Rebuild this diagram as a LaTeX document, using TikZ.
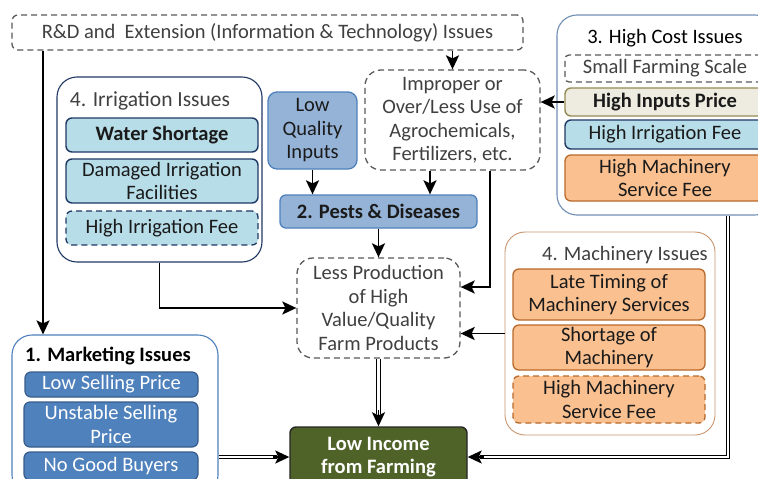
\documentclass[tikz,border=0pt]{standalone}
\usepackage{fontspec}
\setmainfont{Carlito}
\usetikzlibrary{arrows.meta}
\definecolor{navy}{HTML}{1F3864}
\definecolor{lblue}{HTML}{B7DDE8}
\definecolor{mblue}{HTML}{95B3D7}
\definecolor{mborder}{HTML}{4F81BD}
\definecolor{dblue}{HTML}{4F81BD}
\definecolor{dborder}{HTML}{385D8A}
\definecolor{peach}{HTML}{FAC090}
\definecolor{peachb}{HTML}{B8692C}
\definecolor{beige}{HTML}{EEECE1}
\definecolor{beigeb}{HTML}{948A54}
\definecolor{olivef}{HTML}{4F6228}
\definecolor{dashg}{HTML}{595959}
\definecolor{txt}{HTML}{1A1A1A}
\definecolor{txtg}{HTML}{404040}
\definecolor{hcb}{HTML}{6F8FB5}
\definecolor{machb}{HTML}{C8956E}
\newcommand\fs{\fontsize{20.5}{23.5}\selectfont}
\tikzset{
  base/.style={rounded corners=6pt, align=center, font=\fs, inner sep=0pt, text=txt},
  outerbox/.style={draw, rounded corners=20pt, line width=1.1pt, fill=white},
  dsh/.style={dash pattern=on 6pt off 4pt, line width=1.3pt},
  lbbox/.style={base, draw=navy, fill=lblue, line width=1.4pt},
  mbbox/.style={base, draw=mborder, fill=mblue, line width=1.3pt},
  dbbox/.style={base, draw=dborder, fill=dblue, line width=1.2pt, text=white},
  pbox/.style={base, draw=peachb, fill=peach, line width=1.3pt},
  wdash/.style={base, draw=dashg, fill=white, dsh, text=txtg},
  title/.style={font=\fs, inner sep=0pt},
  arr/.style={line width=1.9pt, -{Stealth[length=14pt,width=13pt,inset=3pt]}},
  dline/.style={double, double distance=2.6pt, line width=1pt, shorten >=12pt},
  dtip/.style={line width=1.5pt, -{Stealth[length=14pt,width=13pt,inset=3pt]}}
}
\begin{document}
\begin{tikzpicture}[x=1pt,y=-1pt]
\useasboundingbox (0,0) rectangle (758,479);
\clip (0,0) rectangle (758,479);
\fill[white] (0,0) rectangle (758,479);

% R&D
\node[wdash, minimum width=511pt, minimum height=35pt] (rd) at (267.5,32.5) {R\&D and\ \ Extension (Information \& Technology) Issues};

% Irrigation
\node[outerbox, draw=navy, minimum width=205pt, minimum height=185pt] (irr) at (159.5,169.5) {};
\node[title, text=txtg, font=\fontsize{21.5}{24}\selectfont] (irrt) at (150,101) {4. Irrigation Issues};
\node[lbbox, minimum width=192pt, minimum height=34pt, font=\fs\bfseries] (ws) at (162,135) {Water Shortage};
\node[lbbox, minimum width=192pt, minimum height=44pt] (dif) at (162,181) {Damaged Irrigation\\Facilities};
\node[lbbox, dsh, minimum width=192pt, minimum height=34pt] (hif1) at (162,228) {High Irrigation Fee};

% Low quality inputs
\node[mbbox, minimum width=89pt, minimum height=77pt, rounded corners=9pt] (lq) at (312.5,130.5) {Low\\Quality\\Inputs};

% Improper
\node[wdash, rounded corners=16pt, minimum width=175pt, minimum height=100pt, text=txtg] (imp) at (452.5,120) {Improper or\\Over/Less Use of\\Agrochemicals,\\Fertilizers, etc.};

% Pests
\node[mbbox, minimum width=197pt, minimum height=33pt, font=\fs\bfseries] (pd) at (378.5,211.5) {2. Pests \& Diseases};

% Less production
\node[wdash, rounded corners=16pt, minimum width=163pt, minimum height=100pt] (lp) at (378.5,308) {Less Production\\of High\\Value/Quality\\Farm Products};

% Low income
\node[base, draw=black!85, fill=olivef, line width=1.4pt, text=white, font=\fs\bfseries, minimum width=177pt, minimum height=60pt] (li) at (378.5,457) {Low Income\\from Farming};

% High cost
\node[outerbox, draw=hcb, minimum width=218pt, minimum height=200pt] (hc) at (666,115) {};
\node[title, text=black] (hct) at (665,38) {3. High Cost Issues};
\node[wdash, rounded corners=4pt, minimum width=200pt, minimum height=27pt, text=txtg] (sfs) at (665,68.5) {Small Farming Scale};
\node[base, draw=beigeb, fill=beige, line width=1.4pt, font=\fs\bfseries, minimum width=200pt, minimum height=28pt] (hip) at (665,102) {High Inputs Price};
\node[lbbox, minimum width=200pt, minimum height=29pt] (hif2) at (665,134.5) {High Irrigation Fee};
\node[pbox, minimum width=200pt, minimum height=46pt] (hms1) at (665,178) {High Machinery\\Service Fee};

% Machinery
\node[outerbox, draw=machb, line width=0.9pt, minimum width=210pt, minimum height=203pt] (mach) at (610,333.5) {};
\node[title, text=txtg] (macht) at (625,255) {4. Machinery Issues};
\node[pbox, minimum width=192pt, minimum height=51pt] (lt) at (609,294.5) {Late Timing of\\Machinery Services};
\node[pbox, minimum width=192pt, minimum height=45pt] (som) at (609,347.5) {Shortage of\\Machinery};
\node[pbox, dsh, minimum width=192pt, minimum height=47pt] (hms2) at (609,399.5) {High Machinery\\Service Fee};

% Marketing
\node[outerbox, draw=mborder, minimum width=206pt, minimum height=160pt] (mk) at (115,415) {};
\node[title, text=black, font=\fs\bfseries] (mkt) at (108,356) {1. Marketing Issues};
\node[dbbox, minimum width=173pt, minimum height=25pt] (lsp) at (111.5,384.5) {Low Selling Price};
\node[dbbox, minimum width=174pt, minimum height=45pt] (usp) at (111,424.5) {Unstable Selling\\Price};
\node[dbbox, minimum width=174pt, minimum height=28pt] (ngb) at (111,466) {No Good Buyers};

% helper coordinates
\coordinate (xa) at (43,0);
\coordinate (xb) at (430,0);
\coordinate (xc) at (490,287);
\coordinate (xd) at (728,0);

% connectors
\draw[arr] (rd.south -| xa) -- (mk.north -| xa);
\draw[arr] (rd.south -| imp.north) -- (imp.north);
\draw[arr] (lq.south) -- (lq.south |- pd.north);
\draw[arr] (imp.south -| xb) -- (pd.north -| xb);
\draw[arr] (imp.south -| xc) -- (xc) -- (lp.east |- xc);
\draw[arr] (pd.south) -- (lp.north);
\draw[arr] (irr.south) |- (lp.west);
\draw[arr] (hip.west) -- (hip.west -| imp.east);
\draw[arr] (mach.west) -- (mach.west -| lp.east);

% double connectors
\draw[dline] (lp.south) -- (li.north);
\draw[dtip] ([yshift=16pt]li.north) -- (li.north);
\draw[dline] (li.west -| mk.east) -- (li.west);
\draw[dtip] ([xshift=-16pt]li.west) -- (li.west);
\draw[dline] (hc.south -| xd) |- (li.east);
\draw[dtip] ([xshift=16pt]li.east) -- (li.east);
\end{tikzpicture}
\end{document}
